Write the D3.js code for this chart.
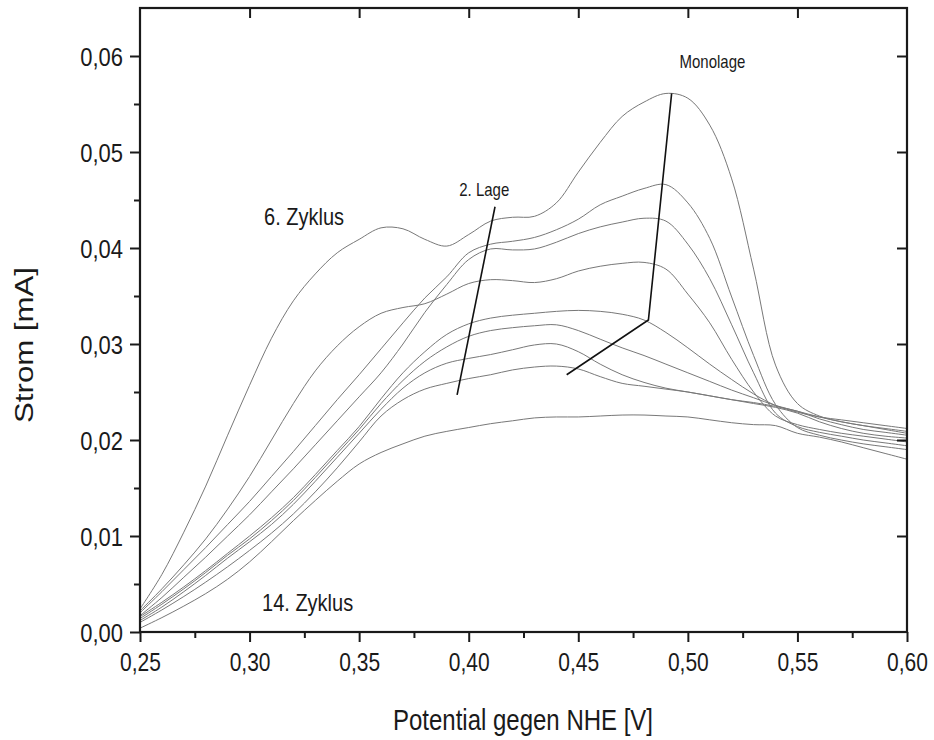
<!DOCTYPE html>
<html>
<head>
<meta charset="utf-8">
<script src="https://cdn.jsdelivr.net/npm/d3@7"></script>
<style>
  html, body { margin: 0; padding: 0; background: #fff; }
  svg { display: block; font-family: 'Liberation Sans', Arial, sans-serif; }
</style>
</head>
<body>
<div id="chart"></div>
<script>
// potential vs NHE [V]
const potential = [0.25, 0.26, 0.27, 0.28, 0.29, 0.30, 0.31, 0.32, 0.33, 0.34, 0.35, 0.36,
  0.37, 0.38, 0.39, 0.40, 0.41, 0.42, 0.43, 0.44, 0.45, 0.46, 0.47, 0.48,
  0.49, 0.50, 0.51, 0.52, 0.53, 0.54, 0.55, 0.56, 0.57, 0.58, 0.59, 0.60]

// current [mA], cycles 6 .. 14
const zyklus6 = [0.0024, 0.0060, 0.0104, 0.0152, 0.0205, 0.0257, 0.0306, 0.0345, 0.0373, 0.0395, 0.0409, 0.0421,
  0.0420, 0.0409, 0.0402, 0.0414, 0.0428, 0.0432, 0.0433, 0.0447, 0.0479, 0.0510, 0.0537, 0.0552,
  0.0561, 0.0556, 0.0528, 0.0472, 0.0378, 0.0278, 0.0238, 0.0225, 0.0219, 0.0215, 0.0211, 0.0207]
const zyklus7 = [0.0020, 0.0042, 0.0065, 0.0088, 0.0112, 0.0136, 0.0162, 0.0188, 0.0215, 0.0242, 0.0268, 0.0295,
  0.0322, 0.0348, 0.0370, 0.0395, 0.0404, 0.0407, 0.0411, 0.0419, 0.0430, 0.0445, 0.0454, 0.0462,
  0.0466, 0.0447, 0.0410, 0.0349, 0.0288, 0.0237, 0.0213, 0.0205, 0.0200, 0.0196, 0.0193, 0.0190]
const zyklus8 = [0.0017, 0.0036, 0.0057, 0.0078, 0.0100, 0.0122, 0.0146, 0.0170, 0.0195, 0.0220, 0.0245, 0.0270,
  0.0300, 0.0333, 0.0362, 0.0388, 0.0399, 0.0398, 0.0399, 0.0406, 0.0415, 0.0422, 0.0427, 0.0431,
  0.0428, 0.0404, 0.0368, 0.0320, 0.0270, 0.0228, 0.0214, 0.0208, 0.0204, 0.0200, 0.0197, 0.0194]
const zyklus9 = [0.0022, 0.0045, 0.0070, 0.0097, 0.0128, 0.0162, 0.0200, 0.0238, 0.0272, 0.0298, 0.0318, 0.0332,
  0.0338, 0.0342, 0.0352, 0.0363, 0.0367, 0.0366, 0.0364, 0.0368, 0.0376, 0.0381, 0.0384, 0.0385,
  0.0378, 0.0352, 0.0322, 0.0284, 0.0250, 0.0225, 0.0216, 0.0211, 0.0207, 0.0204, 0.0201, 0.0198]
const zyklus10 = [0.0016, 0.0031, 0.0047, 0.0064, 0.0082, 0.0100, 0.0119, 0.0140, 0.0164, 0.0189, 0.0214, 0.0243,
  0.0270, 0.0292, 0.0310, 0.0321, 0.0327, 0.0330, 0.0332, 0.0334, 0.0335, 0.0334, 0.0331, 0.0325,
  0.0312, 0.0296, 0.0279, 0.0263, 0.0248, 0.0236, 0.0229, 0.0224, 0.0221, 0.0218, 0.0215, 0.0212]
const zyklus11 = [0.0014, 0.0029, 0.0045, 0.0062, 0.0080, 0.0097, 0.0116, 0.0137, 0.0161, 0.0186, 0.0211, 0.0238,
  0.0262, 0.0282, 0.0297, 0.0308, 0.0314, 0.0317, 0.0319, 0.0320, 0.0314, 0.0305, 0.0296, 0.0288,
  0.0279, 0.0270, 0.0261, 0.0252, 0.0244, 0.0236, 0.0230, 0.0224, 0.0219, 0.0215, 0.0212, 0.0209]
const zyklus12 = [0.0012, 0.0026, 0.0042, 0.0059, 0.0077, 0.0094, 0.0112, 0.0133, 0.0157, 0.0182, 0.0207, 0.0232,
  0.0254, 0.0270, 0.0280, 0.0285, 0.0289, 0.0294, 0.0299, 0.0300, 0.0292, 0.0279, 0.0268, 0.0260,
  0.0254, 0.0250, 0.0246, 0.0242, 0.0239, 0.0235, 0.0230, 0.0222, 0.0216, 0.0211, 0.0208, 0.0205]
const zyklus13 = [0.0010, 0.0023, 0.0037, 0.0052, 0.0068, 0.0085, 0.0103, 0.0123, 0.0146, 0.0171, 0.0198, 0.0225,
  0.0242, 0.0253, 0.0259, 0.0264, 0.0268, 0.0273, 0.0276, 0.0277, 0.0274, 0.0266, 0.0259, 0.0256,
  0.0253, 0.0250, 0.0246, 0.0242, 0.0238, 0.0234, 0.0228, 0.0219, 0.0212, 0.0207, 0.0204, 0.0202]
const zyklus14 = [0.0004, 0.0015, 0.0027, 0.0040, 0.0055, 0.0073, 0.0094, 0.0116, 0.0137, 0.0157, 0.0175, 0.0187,
  0.0196, 0.0204, 0.0209, 0.0213, 0.0217, 0.0220, 0.0223, 0.0224, 0.0224, 0.0225, 0.0226, 0.0226,
  0.0225, 0.0224, 0.0221, 0.0218, 0.0216, 0.0215, 0.0207, 0.0203, 0.0198, 0.0192, 0.0186, 0.0180]

const cycles = [zyklus6, zyklus7, zyklus8, zyklus9, zyklus10, zyklus11, zyklus12, zyklus13, zyklus14]

const xTicks = [0.25, 0.30, 0.35, 0.40, 0.45, 0.50, 0.55, 0.60]
const xMinorTicks = [0.275, 0.325, 0.375, 0.425, 0.475, 0.525, 0.575]
const yTicks = [0.00, 0.01, 0.02, 0.03, 0.04, 0.05, 0.06]
const yMinorTicks = [0.005, 0.015, 0.025, 0.035, 0.045, 0.055]

// annotation guide lines (potential, current)
const lageLine = [[0.412, 0.0443], [0.3947, 0.0247]]
const monolageLine = [[0.4926, 0.0561], [0.482, 0.0325], [0.4447, 0.0268]]

const width = 934
const height = 740
const margin = { left: 140, top: 8, right: 27, bottom: 108 }
const stretch = 1.2

const svg = d3.select('#chart')
  .append('svg')
  .attr('width', width)
  .attr('height', height)

const xScale = d3.scaleLinear()
  .domain([0.25, 0.60])
  .range([margin.left, width - margin.right])

const yScale = d3.scaleLinear()
  .domain([0, 0.065])
  .range([height - margin.bottom, height - margin.bottom - 0.065 * 9600])

const comma = d => d3.format('.2f')(d).replace('.', ',')

// curves
const line = d3.line()
  .x((d, i) => xScale(potential[i]))
  .y(d => yScale(d))
  .curve(d3.curveCatmullRom.alpha(0.5))

svg.append('g')
  .selectAll('path')
  .data(cycles)
  .join('path')
  .attr('d', line)
  .attr('fill', 'none')
  .attr('stroke', '#787878')
  .attr('stroke-width', 1)

// guide lines
const guide = d3.line()
  .x(d => xScale(d[0]))
  .y(d => yScale(d[1]))

svg.append('g')
  .selectAll('path')
  .data([lageLine, monolageLine])
  .join('path')
  .attr('d', guide)
  .attr('fill', 'none')
  .attr('stroke', '#111')
  .attr('stroke-width', 1.6)

// axes
const x0 = xScale(0.25)
const x1 = xScale(0.60)
const y0 = yScale(0)
const y1 = yScale(0.065)

function styleAxis(g) {
  g.select('.domain').remove()
  g.selectAll('.tick line').attr('stroke', '#1a1a1a').attr('stroke-width', 2)
}

const bottom = svg.append('g')
  .attr('transform', `translate(0, ${y0})`)
  .call(d3.axisBottom(xScale).tickValues(xTicks).tickSize(10).tickFormat(comma))
  .call(styleAxis)

bottom.selectAll('.tick text')
  .attr('font-size', 21)
  .attr('font-family', "'Liberation Sans', Arial, sans-serif")
  .attr('fill', '#1a1a1a')
  .attr('y', 32.5)
  .attr('dy', 0)
  .attr('transform', `scale(1, ${stretch})`)

svg.append('g')
  .attr('transform', `translate(0, ${y0})`)
  .call(d3.axisBottom(xScale).tickValues(xMinorTicks).tickSize(6).tickFormat(''))
  .call(styleAxis)

const left = svg.append('g')
  .attr('transform', `translate(${x0}, 0)`)
  .call(d3.axisLeft(yScale).tickValues(yTicks).tickSize(10).tickFormat(comma))
  .call(styleAxis)

left.selectAll('.tick text')
  .attr('font-size', 22)
  .attr('font-family', "'Liberation Sans', Arial, sans-serif")
  .attr('fill', '#1a1a1a')
  .attr('x', -17)
  .attr('dy', '0.36em')
  .attr('transform', `scale(1, ${stretch})`)

svg.append('g')
  .attr('transform', `translate(${x0}, 0)`)
  .call(d3.axisLeft(yScale).tickValues(yMinorTicks).tickSize(6).tickFormat(''))
  .call(styleAxis)

svg.append('g')
  .attr('transform', `translate(0, ${y1})`)
  .call(d3.axisBottom(xScale).tickValues(xTicks.slice(1, -1)).tickSize(10).tickFormat(''))
  .call(styleAxis)

svg.append('g')
  .attr('transform', `translate(${x1}, 0)`)
  .call(d3.axisLeft(yScale).tickValues(yTicks.slice(1)).tickSize(10).tickFormat(''))
  .call(styleAxis)

// frame
svg.append('rect')
  .attr('x', x0)
  .attr('y', y1)
  .attr('width', x1 - x0)
  .attr('height', y0 - y1)
  .attr('fill', 'none')
  .attr('stroke', '#1a1a1a')
  .attr('stroke-width', 2.2)

// texts (slightly stretched vertically like the scan)
function addText(x, y, str, size, anchor, rotate) {
  svg.append('text')
    .attr('transform', `translate(${x}, ${y}) rotate(${rotate || 0}) scale(${rotate ? stretch : 1}, ${rotate ? 1 : stretch})`)
    .attr('text-anchor', anchor || 'start')
    .attr('font-size', size)
    .attr('fill', '#1a1a1a')
    .text(str)
}

addText(523, 730, 'Potential gegen NHE [V]', 24, 'middle')
addText(33, 345, 'Strom [mA]', 26, 'middle', -90)

addText(xScale(0.3066), yScale(0.0424), '6. Zyklus', 20)
addText(xScale(0.3057), yScale(0.0022), '14. Zyklus', 20)
addText(xScale(0.3957), yScale(0.0454), '2. Lage', 15)
addText(xScale(0.4962), yScale(0.0588), 'Monolage', 15)
</script>
</body>
</html>
